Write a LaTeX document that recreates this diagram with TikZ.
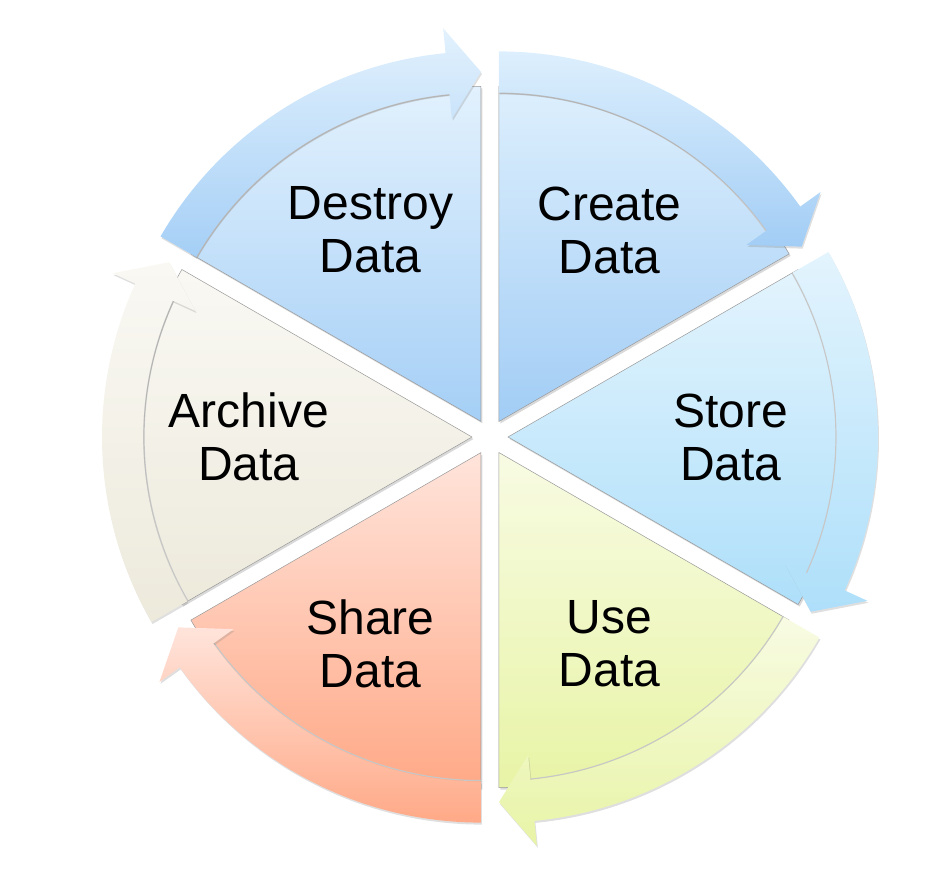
\documentclass[tikz,border=0pt]{standalone}
\usepackage{fontspec}
\setmainfont{Liberation Sans}
\usetikzlibrary{shadows}

\definecolor{destroyTop}{HTML}{E2F1FD}
\definecolor{destroyBot}{HTML}{A5CFF6}
\definecolor{createTop}{HTML}{DDEFFD}
\definecolor{createBot}{HTML}{A2CDF5}
\definecolor{storeTop}{HTML}{E3F4FD}
\definecolor{storeBot}{HTML}{AEDFFA}
\definecolor{useTop}{HTML}{F8FBE3}
\definecolor{useBot}{HTML}{E8F4A6}
\definecolor{shareTop}{HTML}{FFE4DB}
\definecolor{shareBot}{HTML}{FFA987}
\definecolor{archiveTop}{HTML}{F9F8F3}
\definecolor{archiveBot}{HTML}{EDEADC}

\begin{document}
\begin{tikzpicture}[x=1pt,y=1pt,
	segment/.style={draw=black!40, line width=0.5pt, drop shadow={opacity=0.3, shadow xshift=1.5pt, shadow yshift=-2pt}},
	band/.style={drop shadow={opacity=0.25, shadow xshift=1pt, shadow yshift=-2pt}},
	rim/.style={draw=black!22, line width=1.2pt},
	phase/.style={align=center, inner sep=0pt, font=\fontsize{48}{53}\selectfont}]
	\useasboundingbox (-490,-434) rectangle (437,437);
	% Segmente
		\foreach \b/\c in {120/destroy, 60/create, 0/store, -60/use, -120/share, 180/archive}{
			\begin{scope}[shift={(\b:18)}]
				\shade[segment, top color=\c Top, bottom color=\c Bot] (0,0) -- ({\b+30}:335) arc[start angle=\b+30, end angle=\b-30, radius=335] -- cycle;
				\draw[rim] ({\b+30}:328) arc[start angle=\b+30, end angle=\b-24.5, radius=328];
				\shade[band, top color=\c Top, bottom color=\c Bot] ({\b+30}:329) -- ({\b+30}:370) arc[start angle=\b+30, end angle=\b-24.5, radius=370] -- ({\b-24.5}:395) -- ({\b-30}:349.5) -- ({\b-24.5}:304) -- ({\b-24.5}:329) arc[start angle=\b-24.5, end angle=\b+30, radius=329] -- cycle;
			\end{scope}
		}
	% Beschriftung
		\node[phase] (destroy) at (120:239) {Destroy\\Data};
		\node[phase] (create) at (60:239) {Create\\Data};
		\node[phase] (store) at (0:241) {Store\\Data};
		\node[phase] (use) at (-60:239) {Use\\Data};
		\node[phase] (share) at (-120:239) {Share\\Data};
		\node[phase] (archive) at (180:241) {Archive\\Data};
\end{tikzpicture}
\end{document}
